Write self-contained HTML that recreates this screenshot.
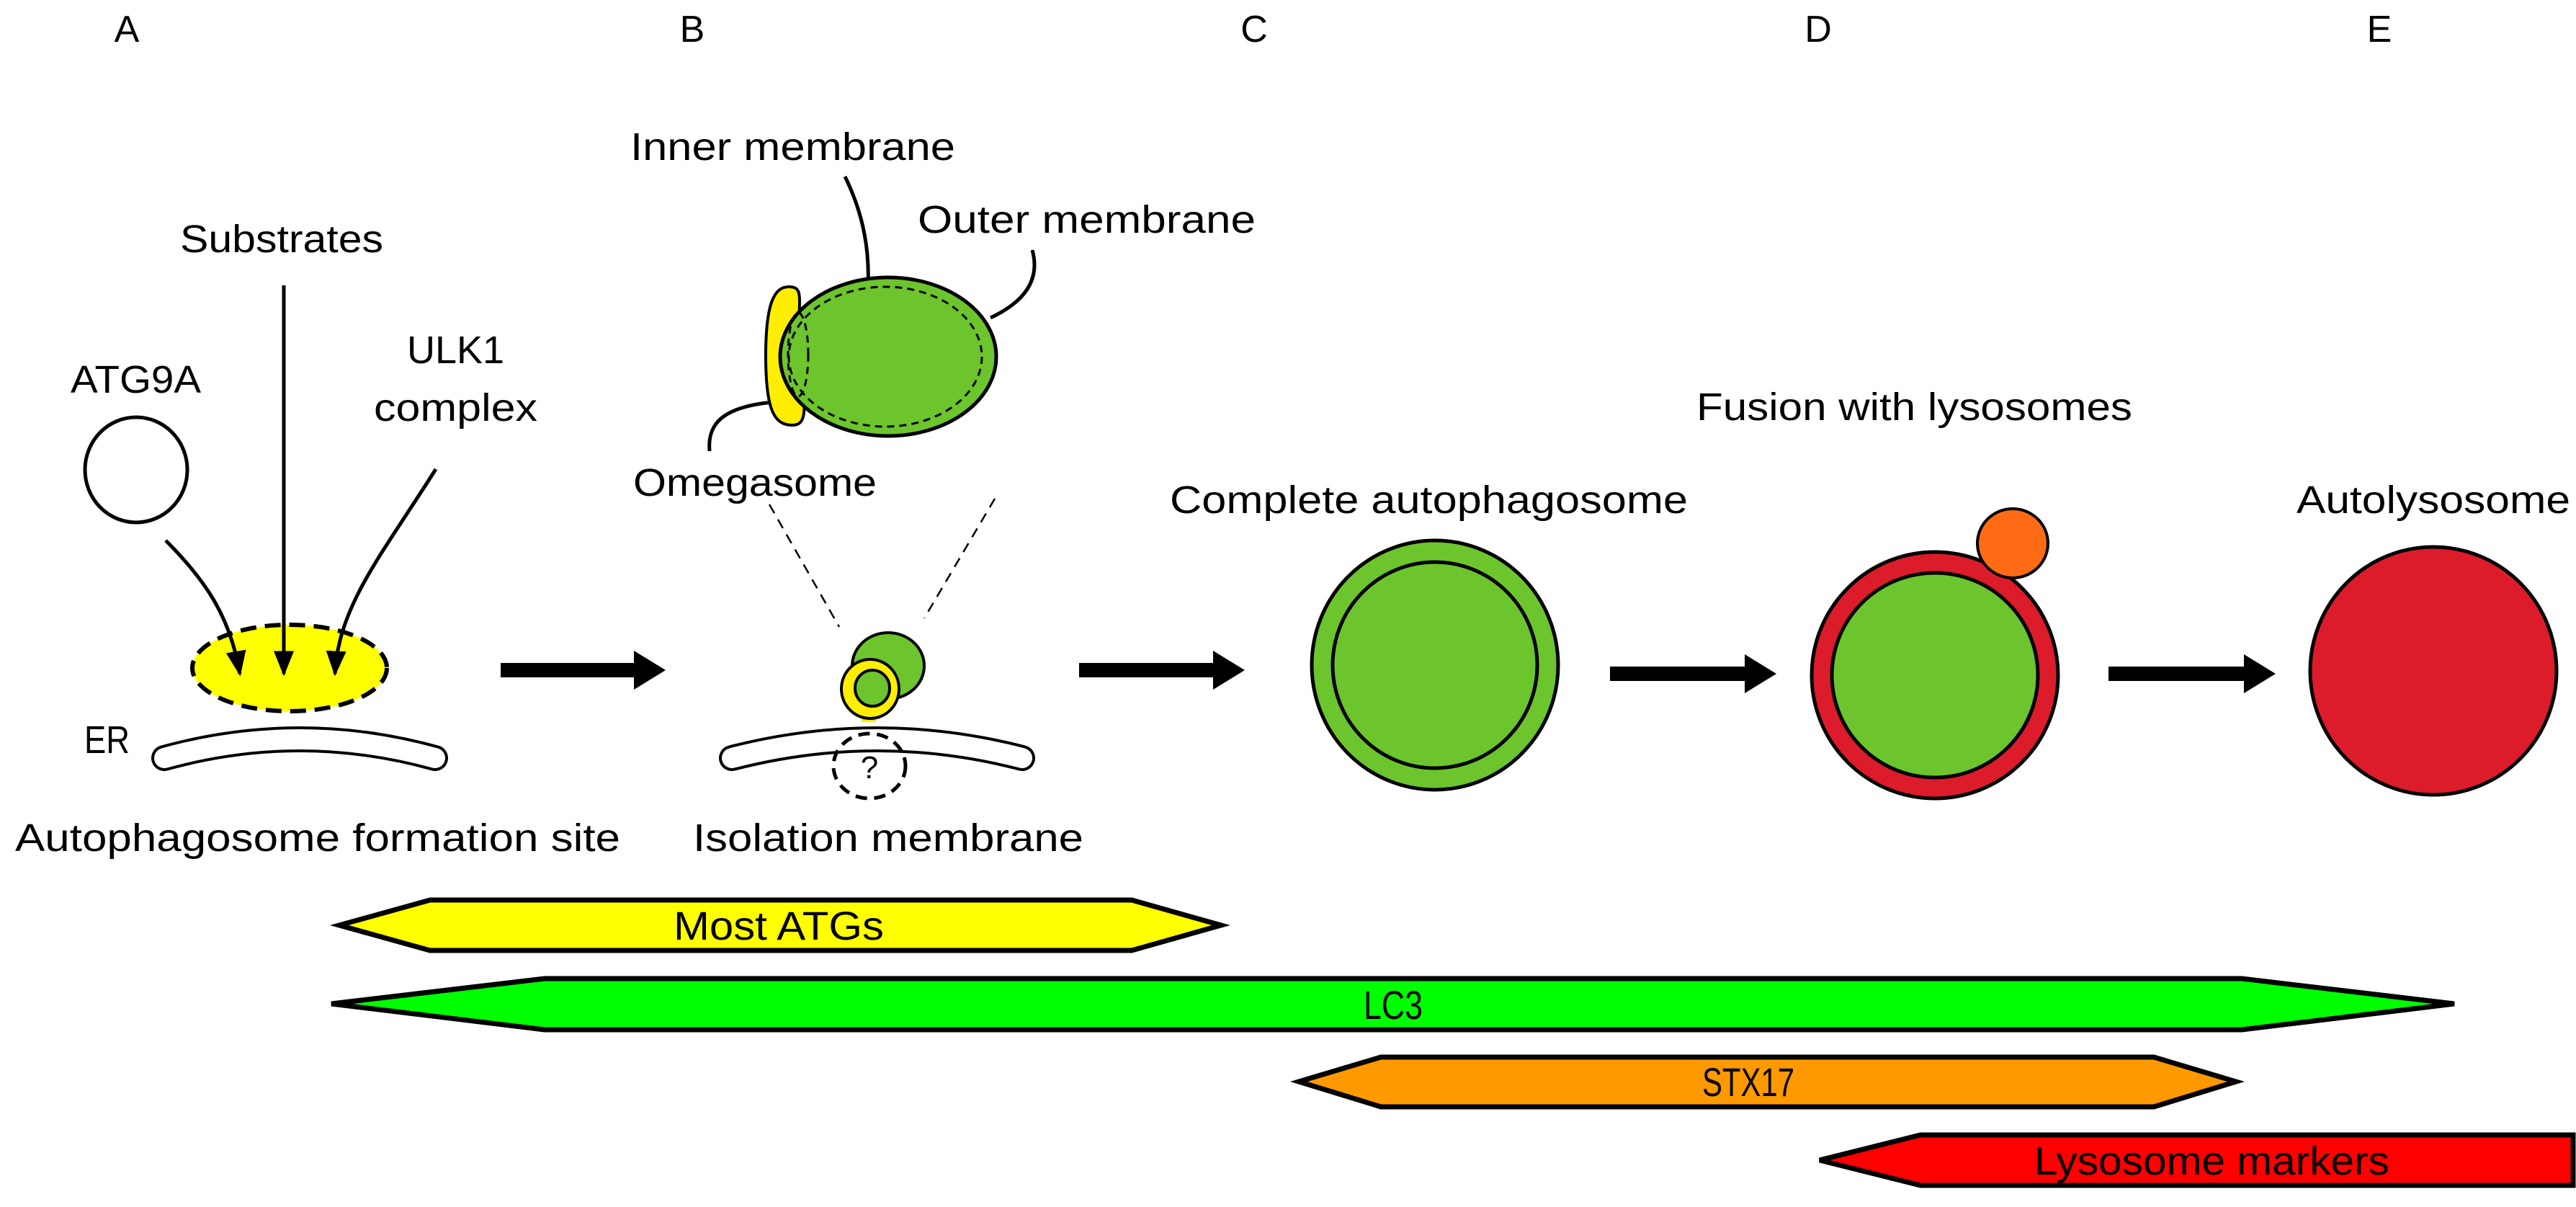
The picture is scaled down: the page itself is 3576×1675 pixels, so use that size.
<!DOCTYPE html>
<html><head><meta charset="utf-8"><style>
html,body{margin:0;padding:0;background:#fff;width:3576px;height:1675px;overflow:hidden}
svg{display:block}
text{font-family:"Liberation Sans",sans-serif;fill:#000}
</style></head><body>
<svg width="3576" height="1675" viewBox="0 0 3576 1675" xmlns="http://www.w3.org/2000/svg">
<defs>
<marker id="ah" viewBox="0 0 10 10" refX="9" refY="5" markerWidth="7" markerHeight="7" orient="auto" markerUnits="strokeWidth"><path d="M0,1 L10,5 L0,9 z" fill="#000"/></marker>
</defs>
<g font-size="52" text-anchor="middle">
<text x="176" y="58">A</text><text x="961" y="58">B</text><text x="1741" y="58">C</text><text x="2524" y="58">D</text><text x="3303" y="58">E</text>
</g>
<g font-size="54">
<text x="875" y="222" textLength="451" lengthAdjust="spacingAndGlyphs">Inner membrane</text>
<text x="1274" y="323" textLength="469" lengthAdjust="spacingAndGlyphs">Outer membrane</text>
<text x="250" y="350" textLength="282" lengthAdjust="spacingAndGlyphs">Substrates</text>
<text x="565" y="504" textLength="135" lengthAdjust="spacingAndGlyphs">ULK1</text>
<text x="519" y="584" textLength="227" lengthAdjust="spacingAndGlyphs">complex</text>
<text x="98" y="545" textLength="181" lengthAdjust="spacingAndGlyphs">ATG9A</text>
<text x="879" y="688" textLength="338" lengthAdjust="spacingAndGlyphs">Omegasome</text>
<text x="117" y="1045" textLength="63" lengthAdjust="spacingAndGlyphs">ER</text>
<text x="21" y="1181" textLength="840" lengthAdjust="spacingAndGlyphs">Autophagosome formation site</text>
<text x="962" y="1181" textLength="542" lengthAdjust="spacingAndGlyphs">Isolation membrane</text>
<text x="1624" y="712" textLength="719" lengthAdjust="spacingAndGlyphs">Complete autophagosome</text>
<text x="2355" y="583" textLength="605" lengthAdjust="spacingAndGlyphs">Fusion with lysosomes</text>
<text x="3188" y="712" textLength="380" lengthAdjust="spacingAndGlyphs">Autolysosome</text>
</g>
<!-- A -->
<ellipse cx="189" cy="652" rx="71" ry="73" fill="#fff" stroke="#000" stroke-width="5"/>
<ellipse cx="402" cy="927" rx="135" ry="60" fill="#ffff00" stroke="#000" stroke-width="6" stroke-dasharray="22,12"/>
<path d="M230,750 C290,810 320,860 333,935" fill="none" stroke="#000" stroke-width="5" marker-end="url(#ah)"/>
<path d="M394,396 L394,935" fill="none" stroke="#000" stroke-width="5" marker-end="url(#ah)"/>
<path d="M605,651 C530,770 470,840 465,935" fill="none" stroke="#000" stroke-width="5" marker-end="url(#ah)"/>
<path d="M228,1052 Q416,1000 604,1052" fill="none" stroke="#000" stroke-width="36" stroke-linecap="round"/>
<path d="M228,1052 Q416,1000 604,1052" fill="none" stroke="#fff" stroke-width="28" stroke-linecap="round"/>
<!-- big arrows -->
<g fill="#000">
<path d="M695,920 L880,920 L880,903 L924,930 L880,957 L880,940 L695,940z"/>
<path d="M1498,920 L1684,920 L1684,903 L1728,930 L1684,957 L1684,940 L1498,940z"/>
<path d="M2235,925 L2422,925 L2422,908 L2466,935 L2422,962 L2422,945 L2235,945z"/>
<path d="M2927,925 L3115,925 L3115,908 L3159,935 L3115,962 L3115,945 L2927,945z"/>
</g>
<!-- B top zoom -->
<path d="M1173,245 C1200,300 1207,350 1205,398" fill="none" stroke="#000" stroke-width="5"/>
<path d="M1433,347 C1445,390 1420,420 1375,441" fill="none" stroke="#000" stroke-width="5"/>
<path d="M985,626 C982,590 1000,565 1073,558" fill="none" stroke="#000" stroke-width="5"/>
<path d="M1095,398 C1075,398 1063,420 1063,494 C1063,570 1075,590 1100,590 C1120,590 1120,570 1110,494 C1105,420 1120,398 1095,398z" fill="#ffee00" stroke="#000" stroke-width="4"/>
<ellipse cx="1233" cy="495" rx="150" ry="110" fill="#6cc52d" stroke="#000" stroke-width="5"/>
<ellipse cx="1229" cy="495" rx="134" ry="97" fill="none" stroke="#000" stroke-width="3" stroke-dasharray="10,7"/>
<ellipse cx="1108" cy="492" rx="14" ry="58" fill="none" stroke="#000" stroke-width="3" stroke-dasharray="10,7"/>
<line x1="1068" y1="700" x2="1165" y2="870" stroke="#000" stroke-width="2.5" stroke-dasharray="14,10"/>
<line x1="1381" y1="692" x2="1283" y2="858" stroke="#000" stroke-width="2.5" stroke-dasharray="14,10"/>
<!-- B small -->
<path d="M1016,1052 Q1218,1000 1419,1052" fill="none" stroke="#000" stroke-width="36" stroke-linecap="round"/>
<path d="M1016,1052 Q1218,1000 1419,1052" fill="none" stroke="#fff" stroke-width="28" stroke-linecap="round"/>
<ellipse cx="1233" cy="924" rx="50" ry="46" fill="#6cc52d" stroke="#000" stroke-width="4"/>
<path d="M1196,985 L1196,1002 L1216,1002 L1216,985z" fill="#ffee00"/>
<ellipse cx="1208" cy="956" rx="40" ry="41" fill="#ffee00" stroke="#000" stroke-width="4"/>
<ellipse cx="1211" cy="955" rx="24" ry="25" fill="#6cc52d" stroke="#000" stroke-width="4"/>
<ellipse cx="1207" cy="1063" rx="50" ry="45" fill="none" stroke="#000" stroke-width="5" stroke-dasharray="16,10"/>
<text x="1207" y="1080" font-size="44" text-anchor="middle">?</text>
<!-- C -->
<ellipse cx="1992" cy="923" rx="171" ry="173" fill="#6cc52d" stroke="#000" stroke-width="5"/>
<ellipse cx="1992" cy="923" rx="142" ry="143" fill="#6cc52d" stroke="#000" stroke-width="5"/>
<!-- D -->
<ellipse cx="2686" cy="937" rx="171" ry="171" fill="#dc1c2a" stroke="#000" stroke-width="5"/>
<ellipse cx="2686" cy="937" rx="143" ry="142" fill="#6cc52d" stroke="#000" stroke-width="5"/>
<ellipse cx="2794" cy="754" rx="49" ry="48" fill="#ff6a14" stroke="#000" stroke-width="4"/>
<!-- E -->
<ellipse cx="3378" cy="931" rx="171" ry="172" fill="#dc1c2a" stroke="#000" stroke-width="5"/>
<!-- bars -->
<g stroke="#000" stroke-width="7" stroke-linejoin="miter">
<polygon points="471,1284 597,1249 1571,1249 1695,1284 1571,1319 597,1319" fill="#ffff00"/>
<polygon points="460,1393 756,1358 3112,1358 3407,1393 3112,1429 756,1429" fill="#00ff00"/>
<polygon points="1803,1501 1917,1467 2990,1467 3104,1501 2990,1536 1917,1536" fill="#ff9900"/>
<polygon points="2526,1610 2666,1575 3572,1575 3572,1645 2666,1645" fill="#ff0000"/>
</g>
<g font-size="56">
<text x="935" y="1304" textLength="292" lengthAdjust="spacingAndGlyphs">Most ATGs</text>
<text x="1893" y="1414" textLength="82" lengthAdjust="spacingAndGlyphs">LC3</text>
<text x="2363" y="1521" textLength="128" lengthAdjust="spacingAndGlyphs">STX17</text>
<text x="2824" y="1630" textLength="493" lengthAdjust="spacingAndGlyphs">Lysosome markers</text>
</g>
</svg>
</body></html>
